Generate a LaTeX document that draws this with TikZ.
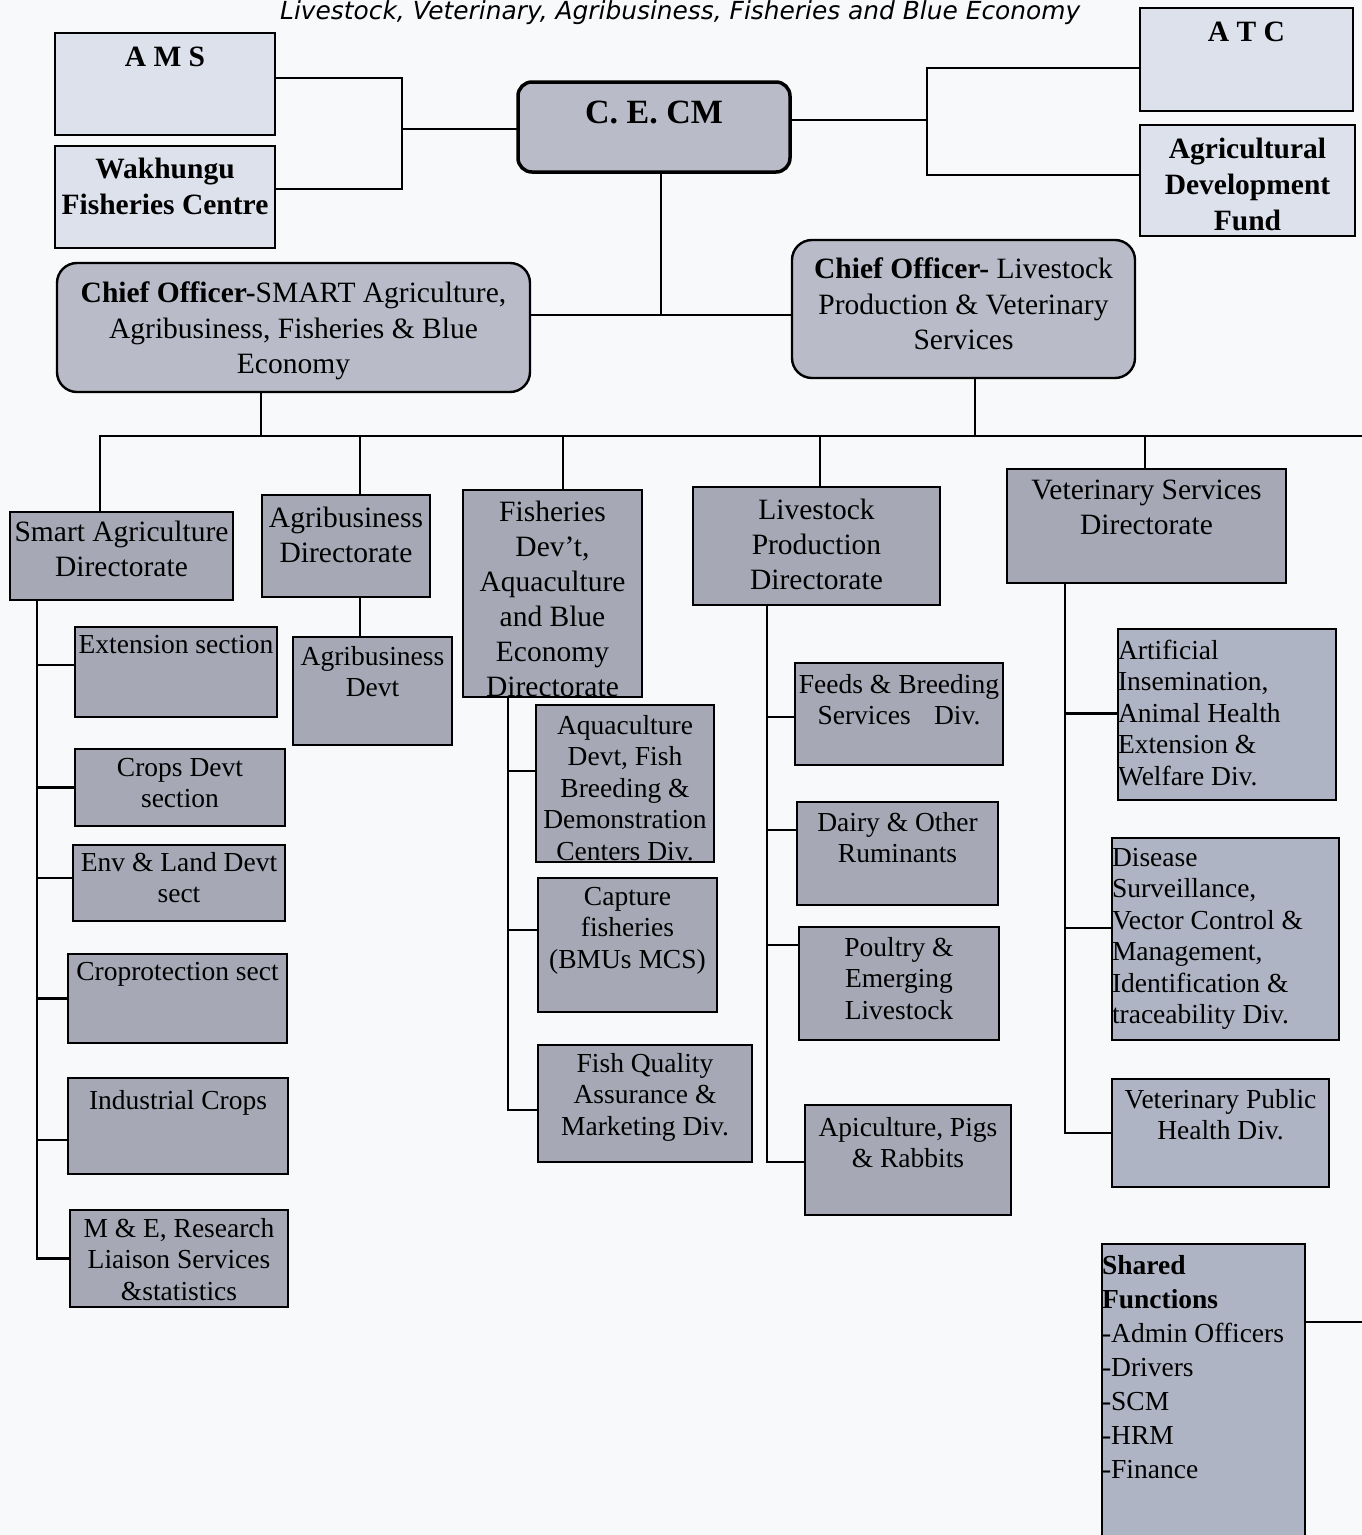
\documentclass[tikz,border=0pt]{standalone}
\usepackage{fontspec}
\setmainfont{Liberation Serif}
\newfontfamily\titlefont{DejaVu Sans}
\definecolor{cLight}{HTML}{DDE1EC}
\definecolor{cMid}{HTML}{B9BCC8}
\definecolor{cDark}{HTML}{A6A9B5}
\definecolor{cVet}{HTML}{AEB4C3}
\definecolor{cBg}{HTML}{F8F9FB}
\tikzset{
  boxbase/.style={draw=black, line width=2.4pt},
  topbox/.style={boxbase, fill=cLight, font=\bfseries\fontsize{29.5}{36}\selectfont},
  cebox/.style={boxbase, fill=cMid, rounded corners=14pt, line width=3.5pt, font=\bfseries\fontsize{34}{40}\selectfont},
  cobox/.style={boxbase, fill=cMid, rounded corners=20pt, font=\fontsize{29.5}{35.5}\selectfont},
  dirbox/.style={boxbase, fill=cDark, font=\fontsize{29.5}{35}\selectfont},
  divbox/.style={boxbase, fill=cDark, font=\fontsize{27.5}{31.5}\selectfont},
  vetbox/.style={boxbase, fill=cVet, font=\fontsize{27.5}{31.5}\selectfont},
  sfbox/.style={boxbase, fill=cVet, font=\fontsize{27.5}{34}\selectfont},
  conn/.style={line width=2.8pt, line cap=rect}
}
\newcommand\orgbox[8]{%
  \pgfmathsetlengthmacro\obw{(#5)-(#3)}%
  \pgfmathsetlengthmacro\obh{(#6)-(#4)}%
  \node[#2, anchor=north west, inner sep=0pt, outer sep=0pt,
        minimum width=\obw, minimum height=\obh] (#1) at (#3,#4)
  {\parbox[t][\obh][t]{\obw}{\vspace*{#7pt}#8}};%
}
\newcommand\branch[3]{%
  \coordinate (tmp) at ([yshift=#3pt]#2.west);
  \draw[conn] (#1 |- tmp) -- (tmp);%
}
\begin{document}
\begin{tikzpicture}[x=1pt,y=-1pt]
\fill[cBg] (0,0) rectangle (1362,1535);
\useasboundingbox (0,0) rectangle (1362,1535);

% title
\node[anchor=base west, inner sep=0pt] (title) at (280,19)
  {\resizebox{800pt}{!}{\titlefont\itshape Livestock, Veterinary, Agribusiness, Fisheries and Blue Economy}};

% top level
\orgbox{ams}{topbox}{55}{33}{275}{135}{14}{\centering A M S}
\orgbox{wak}{topbox}{55}{146}{275}{248}{12}{\centering Wakhungu\\Fisheries Centre}
\orgbox{cecm}{cebox}{518}{82}{790}{172}{19}{\centering C. E. CM}
\orgbox{atc}{topbox}{1140}{8}{1353}{111}{14}{\centering A T C}
\orgbox{adf}{topbox}{1140}{125}{1355}{236}{13}{\centering Agricultural\\Development\\Fund}
\orgbox{col}{cobox}{57}{263}{530}{392}{19}{\centering\textbf{Chief Officer-}SMART Agriculture,\\Agribusiness, Fisheries \& Blue\\Economy}
\orgbox{cor}{cobox}{792}{240}{1135}{378}{18}{\centering\textbf{Chief Officer-} Livestock\\Production \& Veterinary\\Services}

% directorates
\orgbox{sa}{dirbox}{10}{512}{233}{600}{9}{\centering Smart Agriculture\\Directorate}
\orgbox{ad}{dirbox}{262}{495}{430}{597}{12}{\centering Agribusiness\\Directorate}
\orgbox{fd}{dirbox}{463}{490}{642}{697}{11}{\centering Fisheries\\Dev’t,\\Aquaculture\\and Blue\\Economy\\Directorate}
\orgbox{lp}{dirbox}{693}{487}{940}{605}{12}{\centering Livestock\\Production\\Directorate}
\orgbox{vs}{dirbox}{1007}{469}{1286}{583}{11}{\centering Veterinary Services\\Directorate}

% smart agriculture sections
\orgbox{ext}{divbox}{75}{627}{277}{717}{8}{\centering Extension section}
\orgbox{crd}{divbox}{75}{749}{285}{826}{9}{\centering Crops Devt\\section}
\orgbox{env}{divbox}{73}{845}{285}{921}{7}{\centering Env \& Land Devt\\sect}
\orgbox{cpt}{divbox}{68}{954}{287}{1043}{8}{\centering Croprotection sect}
\orgbox{ind}{divbox}{68}{1078}{288}{1174}{12}{\centering Industrial Crops}
\orgbox{mne}{divbox}{70}{1210}{288}{1307}{8}{\centering M \& E, Research\\Liaison Services\\\&statistics}

% agribusiness
\orgbox{agd}{divbox}{293}{637}{452}{745}{9}{\centering Agribusiness\\Devt}

% fisheries
\orgbox{aq}{divbox}{536}{705}{714}{862}{10}{\centering Aquaculture\\Devt, Fish\\Breeding \&\\Demonstration\\Centers Div.}
\orgbox{cap}{divbox}{538}{878}{717}{1012}{9}{\centering Capture\\fisheries\\(BMUs MCS)}
\orgbox{fq}{divbox}{538}{1045}{752}{1162}{8}{\centering Fish Quality\\Assurance \&\\Marketing Div.}

% livestock
\orgbox{fb}{divbox}{795}{663}{1003}{765}{11}{\centering Feeds \& Breeding\\Services\hspace{0.6em} Div.}
\orgbox{dy}{divbox}{797}{802}{998}{905}{10}{\centering Dairy \& Other\\Ruminants}
\orgbox{pl}{divbox}{799}{927}{999}{1040}{10}{\centering Poultry \&\\Emerging\\Livestock}
\orgbox{ap}{divbox}{805}{1105}{1011}{1215}{12}{\centering Apiculture, Pigs\\\& Rabbits}

% veterinary
\orgbox{ai}{vetbox}{1118}{629}{1336}{800}{11}{\raggedright Artificial\\Insemination,\\Animal Health\\Extension \&\\Welfare Div.}
\orgbox{ds}{vetbox}{1112}{838}{1339}{1040}{10}{\raggedright Disease\\Surveillance,\\Vector Control \&\\Management,\\Identification \&\\traceability Div.}
\orgbox{vph}{vetbox}{1112}{1079}{1329}{1187}{10}{\centering Veterinary Public\\Health Div.}

% shared functions
\orgbox{sf}{sfbox}{1102}{1244}{1305}{1545}{11}{\raggedright\textbf{Shared}\\\textbf{Functions}\\-Admin Officers\\-Drivers\\-SCM\\-HRM\\-Finance}

% ---- connectors ----
\coordinate (lj) at (402,129);
\draw[conn] ([yshift=6pt]ams.east) -| (lj) |- ([yshift=8pt]wak.east);
\draw[conn] (lj) -- (cecm.west |- lj);
\coordinate (rj) at (927,120);
\draw[conn] ([yshift=7pt]cecm.east) -- (rj);
\draw[conn] ([yshift=-8.5pt]atc.west) -| (rj) |- ([yshift=5.5pt]adf.west);
\coordinate (cj) at (661,315);
\draw[conn] ([xshift=7pt]cecm.south) -- (cj);
\draw[conn] (col.east |- cj) -- (cor.west |- cj);

\coordinate (busL) at (100,436);
\coordinate (busR) at (1362,436);
\draw[conn] (busL) -- (busR);
\coordinate (colb) at ([xshift=-32.5pt]col.south);
\draw[conn] (colb) -- (colb |- busL);
\coordinate (corb) at ([xshift=11.5pt]cor.south);
\draw[conn] (corb) -- (corb |- busL);
\draw[conn] (busL) -- (busL |- sa.north);
\coordinate (adt) at ([xshift=14pt]ad.north);
\draw[conn] (adt |- busL) -- (adt);
\coordinate (fdt) at ([xshift=10.5pt]fd.north);
\draw[conn] (fdt |- busL) -- (fdt);
\coordinate (lpt) at ([xshift=3.5pt]lp.north);
\draw[conn] (lpt |- busL) -- (lpt);
\coordinate (vst) at ([xshift=-1.5pt]vs.north);
\draw[conn] (vst |- busL) -- (vst);

% smart agriculture spine
\coordinate (sasp) at ([xshift=27pt]sa.south west);
\branch{sasp}{ext}{7}
\branch{sasp}{crd}{0}
\branch{sasp}{env}{5}
\branch{sasp}{cpt}{0}
\branch{sasp}{ind}{-14}
\branch{sasp}{mne}{0}
\draw[conn] (sasp) -- (sasp |- tmp);

% agribusiness
\coordinate (adb) at ([xshift=14pt]ad.south);
\draw[conn] (adb) -- (adb |- agd.north);

% fisheries spine
\coordinate (fdsp) at ([xshift=45pt]fd.south west);
\branch{fdsp}{aq}{12.5}
\branch{fdsp}{cap}{15}
\branch{fdsp}{fq}{-6.5}
\draw[conn] (fdsp) -- (fdsp |- tmp);

% livestock spine
\coordinate (lpsp) at ([xshift=74pt]lp.south west);
\branch{lpsp}{fb}{-3}
\branch{lpsp}{dy}{23.5}
\branch{lpsp}{pl}{38.5}
\branch{lpsp}{ap}{-2}
\draw[conn] (lpsp) -- (lpsp |- tmp);

% veterinary spine
\coordinate (vssp) at ([xshift=58pt]vs.south west);
\branch{vssp}{ai}{1}
\branch{vssp}{ds}{11}
\branch{vssp}{vph}{0}
\draw[conn] (vssp) -- (vssp |- tmp);

% shared functions link
\coordinate (sfend) at (1362,1322);
\draw[conn] (sf.east |- sfend) -- (sfend);
\end{tikzpicture}
\end{document}
